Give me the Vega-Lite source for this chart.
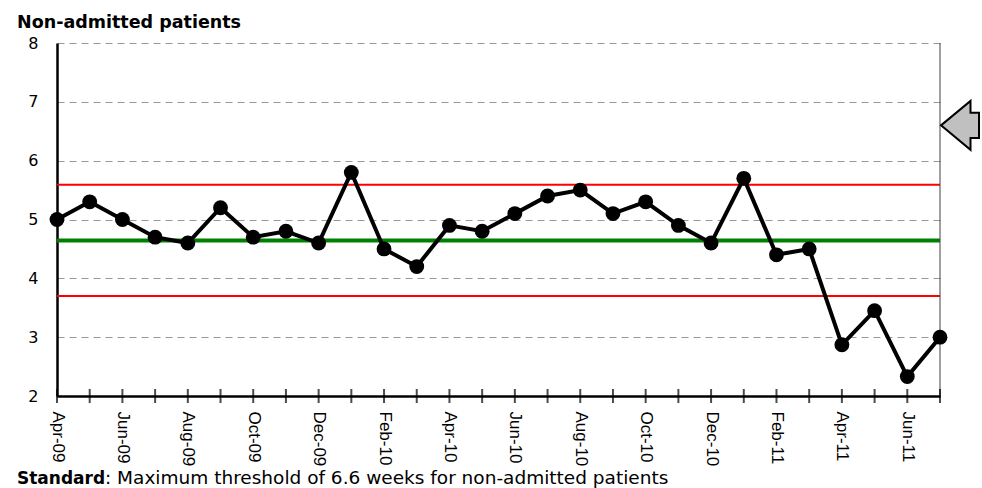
{
  "$schema": "https://vega.github.io/schema/vega-lite/v6.json",
  "width": 883,
  "height": 353,
  "autosize": {"type": "none"},
  "padding": {"left": 57, "top": 43, "right": 42, "bottom": 92},
  "background": "white",
  "config": {"view": {"stroke": null}, "font": "DejaVu Sans"},
  "title": {
    "text": "Non-admitted patients",
    "anchor": "start",
    "frame": "group",
    "font": "DejaVu Sans",
    "fontSize": 17.5,
    "fontWeight": "bold",
    "color": "black",
    "baseline": "alphabetic",
    "offset": 10,
    "dx": -40,
    "dy": 20
  },
  "data": {
    "values": [
      {"month": "Apr-09", "value": 5.0, "mean": 4.645, "ucl": 5.59, "lcl": 3.70},
      {"month": "May-09", "value": 5.3, "mean": 4.645, "ucl": 5.59, "lcl": 3.70},
      {"month": "Jun-09", "value": 5.0, "mean": 4.645, "ucl": 5.59, "lcl": 3.70},
      {"month": "Jul-09", "value": 4.7, "mean": 4.645, "ucl": 5.59, "lcl": 3.70},
      {"month": "Aug-09", "value": 4.6, "mean": 4.645, "ucl": 5.59, "lcl": 3.70},
      {"month": "Sep-09", "value": 5.2, "mean": 4.645, "ucl": 5.59, "lcl": 3.70},
      {"month": "Oct-09", "value": 4.7, "mean": 4.645, "ucl": 5.59, "lcl": 3.70},
      {"month": "Nov-09", "value": 4.8, "mean": 4.645, "ucl": 5.59, "lcl": 3.70},
      {"month": "Dec-09", "value": 4.6, "mean": 4.645, "ucl": 5.59, "lcl": 3.70},
      {"month": "Jan-10", "value": 5.8, "mean": 4.645, "ucl": 5.59, "lcl": 3.70},
      {"month": "Feb-10", "value": 4.5, "mean": 4.645, "ucl": 5.59, "lcl": 3.70},
      {"month": "Mar-10", "value": 4.2, "mean": 4.645, "ucl": 5.59, "lcl": 3.70},
      {"month": "Apr-10", "value": 4.9, "mean": 4.645, "ucl": 5.59, "lcl": 3.70},
      {"month": "May-10", "value": 4.8, "mean": 4.645, "ucl": 5.59, "lcl": 3.70},
      {"month": "Jun-10", "value": 5.1, "mean": 4.645, "ucl": 5.59, "lcl": 3.70},
      {"month": "Jul-10", "value": 5.4, "mean": 4.645, "ucl": 5.59, "lcl": 3.70},
      {"month": "Aug-10", "value": 5.5, "mean": 4.645, "ucl": 5.59, "lcl": 3.70},
      {"month": "Sep-10", "value": 5.1, "mean": 4.645, "ucl": 5.59, "lcl": 3.70},
      {"month": "Oct-10", "value": 5.3, "mean": 4.645, "ucl": 5.59, "lcl": 3.70},
      {"month": "Nov-10", "value": 4.9, "mean": 4.645, "ucl": 5.59, "lcl": 3.70},
      {"month": "Dec-10", "value": 4.6, "mean": 4.645, "ucl": 5.59, "lcl": 3.70},
      {"month": "Jan-11", "value": 5.7, "mean": 4.645, "ucl": 5.59, "lcl": 3.70},
      {"month": "Feb-11", "value": 4.4, "mean": 4.645, "ucl": 5.59, "lcl": 3.70},
      {"month": "Mar-11", "value": 4.5, "mean": 4.645, "ucl": 5.59, "lcl": 3.70},
      {"month": "Apr-11", "value": 2.87, "mean": 4.645, "ucl": 5.59, "lcl": 3.70},
      {"month": "May-11", "value": 3.45, "mean": 4.645, "ucl": 5.59, "lcl": 3.70},
      {"month": "Jun-11", "value": 2.33, "mean": 4.645, "ucl": 5.59, "lcl": 3.70},
      {"month": "Jul-11", "value": 3.0, "mean": 4.645, "ucl": 5.59, "lcl": 3.70}
    ]
  },
  "encoding": {
    "x": {
      "field": "month",
      "type": "ordinal",
      "sort": null,
      "scale": {"type": "point", "padding": 0},
      "axis": {
        "title": null,
        "grid": false,
        "domainColor": "black",
        "domainWidth": 2.5,
        "ticks": false,
        "tickSize": 0,
        "labelAngle": 90,
        "labelFont": "Liberation Sans",
        "labelFontSize": 17,
        "labelColor": "black",
        "labelPadding": 15,
        "labelOverlap": false,
        "labelBound": false,
        "labelExpr": "indexof(['Apr','Jun','Aug','Oct','Dec','Feb'], slice(datum.value, 0, 3)) >= 0 ? datum.label : ''"
      }
    }
  },
  "layer": [
    {
      "mark": {"type": "line", "color": "#008000", "strokeWidth": 4},
      "encoding": {
        "y": {
          "field": "mean",
          "type": "quantitative",
          "scale": {"domain": [2, 8], "nice": false, "zero": false},
          "axis": {
            "title": null,
            "values": [2, 3, 4, 5, 6, 7, 8],
            "format": "d",
            "domainColor": "black",
            "domainWidth": 2.5,
            "ticks": false,
            "tickSize": 0,
            "labelFont": "DejaVu Sans",
            "labelFontSize": 16,
            "labelColor": "black",
            "labelPadding": 19,
            "grid": true,
            "gridDash": [7, 5],
            "gridColor": "#999999",
            "gridWidth": 1
          }
        }
      }
    },
    {
      "mark": {"type": "line", "color": "#ff0000", "strokeWidth": 2},
      "encoding": {"y": {"field": "ucl", "type": "quantitative"}}
    },
    {
      "mark": {"type": "line", "color": "#ff0000", "strokeWidth": 2},
      "encoding": {"y": {"field": "lcl", "type": "quantitative"}}
    },
    {
      "data": {"values": [{"month": "Jul-11"}]},
      "mark": {"type": "rule", "color": "#404040", "strokeWidth": 1},
      "encoding": {}
    },
    {
      "mark": {"type": "tick", "orient": "vertical", "color": "black", "size": 14, "thickness": 2},
      "encoding": {"y": {"datum": 2}}
    },
    {
      "mark": {"type": "line", "color": "black", "strokeWidth": 4},
      "encoding": {"y": {"field": "value", "type": "quantitative"}}
    },
    {
      "mark": {"type": "point", "shape": "circle", "filled": true, "opacity": 1, "color": "black", "size": 220},
      "encoding": {"y": {"field": "value", "type": "quantitative"}}
    },
    {
      "data": {"values": [{"month": "Jul-11", "threshold": 6.6}]},
      "mark": {
        "type": "point",
        "shape": "M0.1,0 L3.05,-2.45 L3.05,-1.26 L3.9,-1.26 L3.9,1.26 L3.05,1.26 L3.05,2.45 Z",
        "size": 400,
        "filled": true,
        "opacity": 1,
        "fill": "#c0c0c0",
        "stroke": "black",
        "strokeWidth": 2
      },
      "encoding": {"y": {"field": "threshold", "type": "quantitative"}}
    },
    {
      "data": {"values": [{"month": "Apr-09", "label": "Standard"}]},
      "mark": {"type": "text", "font": "DejaVu Sans", "fontWeight": "bold", "fontSize": 17, "color": "black", "align": "left", "baseline": "alphabetic", "dx": -40, "dy": 88},
      "encoding": {"y": {"datum": 2}, "text": {"field": "label"}}
    },
    {
      "data": {"values": [{"month": "Apr-09", "label": ": Maximum threshold of 6.6 weeks for non-admitted patients"}]},
      "mark": {"type": "text", "font": "DejaVu Sans", "fontSize": 18.5, "color": "black", "align": "left", "baseline": "alphabetic", "dx": 48, "dy": 88},
      "encoding": {"y": {"datum": 2}, "text": {"field": "label"}}
    }
  ]
}
